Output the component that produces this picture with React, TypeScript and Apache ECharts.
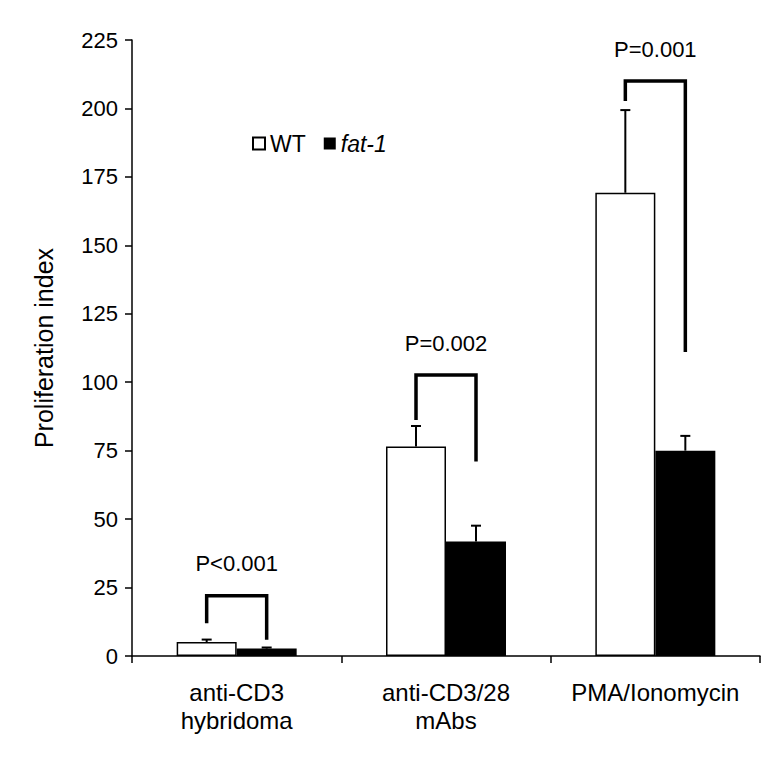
import React, { useEffect, useRef } from 'react';
import * as echarts from 'echarts';

const categories = ['anti-CD3\nhybridoma', 'anti-CD3/28\nmAbs', 'PMA/Ionomycin'];
const wtValues = [5.1, 76.5, 169.2];
const wtErrors = [0.9, 7.5, 30.2];
const fatValues = [2.7, 41.8, 75.0];
const fatErrors = [0.4, 5.8, 5.4];
const pLabels = ['P<0.001', 'P=0.002', 'P=0.001'];
const bracketTop = [22, 102.6, 210];
const bracketLeftEnd = [12, 86.2, 202.7];
const bracketRightEnd = [5.9, 71, 111];
const yMin = 0;
const yMax = 225;
const yStep = 25;

const FONT = 'Liberation Sans, Arial, sans-serif';
const BAR_W = 60;

function errorSeries(values: number[], errors: number[], offset: number) {
  return {
    type: 'custom',
    z: 5,
    encode: { x: 0, y: 1 },
    data: values.map((v, i) => [i, v, errors[i]]),
    renderItem: (params: any, api: any) => {
      const i = api.value(0);
      const v = api.value(1);
      const e = api.value(2);
      const base = api.coord([i, v]);
      const top = api.coord([i, v + e]);
      const x = base[0] + offset;
      return {
        type: 'group',
        children: [
          { type: 'line', shape: { x1: x, y1: base[1], x2: x, y2: top[1] }, style: { stroke: '#000', lineWidth: 2 } },
          { type: 'line', shape: { x1: x - 5, y1: top[1], x2: x + 5, y2: top[1] }, style: { stroke: '#000', lineWidth: 2 } },
        ],
      };
    },
  };
}

export default function App() {
  const ref = useRef<HTMLDivElement>(null);
  useEffect(() => {
    if (!ref.current) return;
    const chart = echarts.init(ref.current, undefined, { renderer: 'svg' });
    chart.setOption({
      animation: false,
      backgroundColor: '#fff',
      textStyle: { fontFamily: FONT, color: '#000' },
      grid: { left: 132, right: 24, top: 40, bottom: 102, containLabel: false },
      legend: {
        left: 247,
        top: 127,
        itemWidth: 12,
        itemHeight: 12,
        itemGap: 18,
        textStyle: { fontSize: 23, fontFamily: FONT, color: '#000' },
        data: [
          { name: 'WT', icon: 'rect' },
          { name: 'fat-1', icon: 'rect', textStyle: { fontStyle: 'italic' } },
        ],
      },
      xAxis: {
        type: 'category',
        data: categories,
        axisLine: { lineStyle: { color: '#000', width: 1.5 } },
        axisTick: { show: true, length: 7, lineStyle: { color: '#000', width: 1.5 } },
        axisLabel: { fontSize: 24, lineHeight: 28, color: '#000', fontFamily: FONT, margin: 22, interval: 0 },
      },
      yAxis: {
        type: 'value',
        min: yMin,
        max: yMax,
        interval: yStep,
        name: 'Proliferation index',
        nameLocation: 'middle',
        nameGap: 76,
        nameTextStyle: { fontSize: 25, color: '#000', fontFamily: FONT },
        axisLine: { show: true, lineStyle: { color: '#000', width: 1.5 } },
        axisTick: { show: true, length: 7, lineStyle: { color: '#000', width: 1.5 } },
        axisLabel: { fontSize: 22, color: '#000', fontFamily: FONT, margin: 14 },
        splitLine: { show: false },
      },
      series: [
        {
          name: 'WT',
          type: 'bar',
          data: wtValues,
          barWidth: BAR_W,
          barGap: '0%',
          itemStyle: { color: '#fff', borderColor: '#000', borderWidth: 1.5 },
        },
        {
          name: 'fat-1',
          type: 'bar',
          data: fatValues,
          barWidth: BAR_W,
          barGap: '0%',
          itemStyle: { color: '#000' },
        },
        errorSeries(wtValues, wtErrors, -BAR_W / 2),
        errorSeries(fatValues, fatErrors, BAR_W / 2),
        {
          type: 'custom',
          z: 6,
          encode: { x: 0, y: 1 },
          data: bracketTop.map((t, i) => [i, t, bracketLeftEnd[i], bracketRightEnd[i]]),
          renderItem: (params: any, api: any) => {
            const i = api.value(0);
            const top = api.coord([i, api.value(1)]);
            const l = api.coord([i, api.value(2)]);
            const r = api.coord([i, api.value(3)]);
            const xl = top[0] - BAR_W / 2;
            const xr = top[0] + BAR_W / 2;
            return {
              type: 'group',
              children: [
                {
                  type: 'polyline',
                  shape: { points: [[xl, l[1]], [xl, top[1]], [xr, top[1]], [xr, r[1]]] },
                  style: { stroke: '#000', lineWidth: 3.5, fill: 'none', lineJoin: 'miter' },
                },
                {
                  type: 'text',
                  style: {
                    text: pLabels[i],
                    x: top[0],
                    y: top[1] - 32,
                    align: 'center',
                    verticalAlign: 'middle',
                    fontSize: 22,
                    fontFamily: FONT,
                    fill: '#000',
                  },
                },
              ],
            };
          },
        },
      ],
    });
    return () => chart.dispose();
  }, []);
  return <div ref={ref} style={{ position: 'fixed', left: 0, top: 0, width: 784, height: 758 }} />;
}
